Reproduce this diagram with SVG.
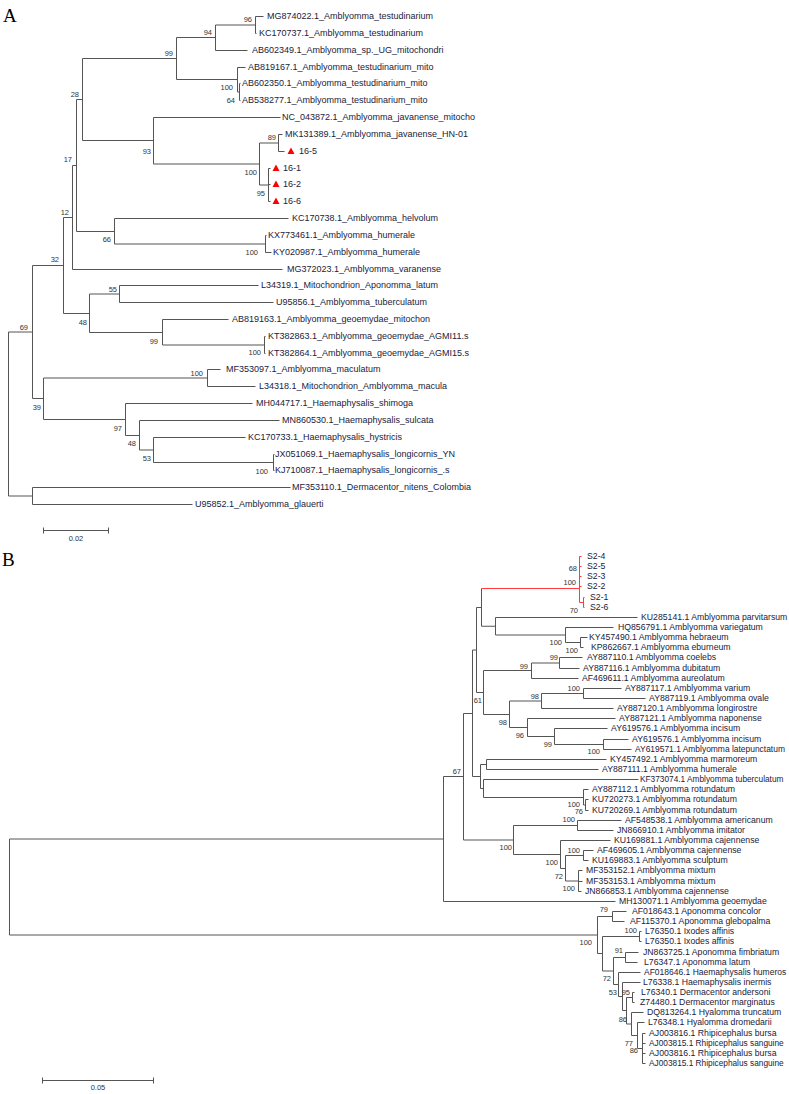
<svg xmlns="http://www.w3.org/2000/svg" width="789" height="1094" viewBox="0 0 789 1094">
<style>
.br{fill:none;stroke:#555;stroke-width:1}
.red{fill:none;stroke:#ff3b3b;stroke-width:1}
.lf{font-family:"Liberation Sans",Arial,sans-serif;font-size:9px;fill:#22223a}
.lb{font-family:"Liberation Sans",Arial,sans-serif;font-size:8.7px;fill:#22223a}
.bs{font-family:"Liberation Sans",Arial,sans-serif;font-size:7.5px;fill:#333;text-anchor:end}
.sc{font-family:"Liberation Sans",Arial,sans-serif;font-size:7.5px;fill:#333;text-anchor:middle}
.pl{font-family:"Liberation Serif","Times New Roman",serif;font-size:19px;fill:#000}
.tri{fill:#ff0000}
</style>
<rect width="789" height="1094" fill="#fff"/>
<text class="pl" x="3" y="22">A</text>
<text class="pl" x="2" y="566">B</text>

<g id="connectors">
<g transform="translate(0.5,0.5)">
<path class="br" d="M8 331.5V495.5M8 331.5H32M8 495.5H32
M32 487V504M32 487H290M32 504H192
M32 265V398M32 265H63M32 398H43
M63 217V313M63 217H72M63 313H89
M72 165V269M72 165H76M72 269H282
M76 99V231M76 99H82M76 231H114
M82 58V140M82 58H176M82 140H153
M176 37V79M176 37H215M176 79H237
M215 24.5V50M215 24.5H255M215 50H247
M255 16V33M255 16H263M255 33H256
M237 67V91.5M237 67H245M237 91.5H239
M239 83V100M239 83H240M239 100H240
M153 117V163.5M153 117H280M153 163.5H259
M259 142.5V184.5M259 142.5H278M259 184.5H268
M278 134V151M278 134H282M278 151H284
M268 168V201M268 168H270M268 184H270M268 201H270
M114 218V243.5M114 218H288M114 243.5H265
M265 235V252M265 235H266M265 252H271
M89 293.5V332M89 293.5H119M89 332H162
M119 285V302M119 285H258M119 302H273
M162 319V344.5M162 319H228M162 344.5H264
M264 336V353M264 336H265M264 353H265
M43 377.5V419M43 377.5H207M43 419H125
M207 369V386M207 369H220M207 386H255
M125 403V435M125 403H252M125 435H139
M139 420V449.5M139 420H279M139 449.5H153
M153 437V462M153 437H245M153 462H273
M273 454V470M273 454H274M273 470H274
M43 530H108M43 527V533M108 527V533"/>
<path class="br" d="M9 838.5V934.5M9 838.5H443M9 934.5H597
M443 776V901M443 776H463M443 901H615
M463 713V839.5M463 713H472M463 839.5H513
M472 649.5V776M472 649.5H476M472 776H480
M476 607V692M476 607H481M476 692H483
M481 588V625.75M481 625.75H495
M495 617V634.5M495 617H637M495 634.5H565
M565 627V642M565 627H613M565 642H580
M580 637V647M580 637H587M580 647H583
M483 670V714M483 670H531M483 714H509
M531 662.5V678M531 662.5H559M531 678H578
M559 657V668M559 657H582M559 668H579
M509 700.5V727M509 700.5H541M509 727H527
M541 693V708M541 693H583M541 708H613
M583 688V698M583 688H621M583 698H645
M527 718V736M527 718H615M527 736H554
M554 728V744M554 728H607M554 744H603
M603 739V749M603 739H628M603 749H631
M480 764V788M480 764H486M480 788H483
M486 759V769M486 759H606M486 769H598
M483 779V797M483 779H638M483 797H583
M583 789V804.5M583 789H588M583 804.5H585
M585 799V810M585 799H588M585 810H588
M513 825V854M513 825H577M513 854H560
M577 820V830M577 820H621M577 830H613
M560 840V868M560 840H610M560 868H565
M565 855V880.5M565 855H583M565 880.5H578
M583 850V860M583 850H593M583 860H588
M578 870V891M578 870H582M578 881H582M578 891H581
M597 916V953M597 916H612M597 953H602
M612 911V921M612 911H626M612 921H624
M602 936V970.5M602 936H639M602 970.5H613
M639 931V941M639 931H641M639 941H641
M613 957V984M613 957H625M613 984H618
M625 952V962M625 952H638M625 962H637
M618 972V996M618 972H640M618 996H622
M622 982V1010M622 982H640M622 1010H626
M626 997V1023.5M626 997H632M626 1023.5H631
M632 992V1002M632 992H634M632 1002H634
M631 1012V1035M631 1012H643M631 1035H637
M637 1022V1048M637 1022H644M637 1048H642
M642 1033V1063M642 1033H645M642 1043H645M642 1053H645M642 1063H645
M42 1080H153M42 1077V1083M153 1077V1083"/>
<path class="red" d="M481 588H579M579 556V602M579 556H581M579 566H581M579 576H581M579 586H581M579 602H583M583 597V607M583 597H584M583 607H584"/>
</g>
</g>

<g id="bootstrap">
<text class="bs" x="252" y="21.7">96</text>
<text class="bs" x="212" y="34.7">94</text>
<text class="bs" x="173" y="55.7">99</text>
<text class="bs" x="233" y="89.7">100</text>
<text class="bs" x="235" y="102.7">64</text>
<text class="bs" x="79" y="96.7">28</text>
<text class="bs" x="151" y="153.7">93</text>
<text class="bs" x="276" y="139.7">89</text>
<text class="bs" x="257" y="174.7">100</text>
<text class="bs" x="265" y="195.7">95</text>
<text class="bs" x="72" y="161.7">17</text>
<text class="bs" x="69" y="214.7">12</text>
<text class="bs" x="111" y="241.7">66</text>
<text class="bs" x="258" y="254.7">100</text>
<text class="bs" x="59" y="261.7">32</text>
<text class="bs" x="117" y="291.7">55</text>
<text class="bs" x="87" y="324.7">48</text>
<text class="bs" x="158" y="343.7">99</text>
<text class="bs" x="261" y="354.7">100</text>
<text class="bs" x="28" y="329.7">69</text>
<text class="bs" x="203" y="375.7">100</text>
<text class="bs" x="41" y="409.7">39</text>
<text class="bs" x="122" y="430.7">97</text>
<text class="bs" x="136" y="445.7">48</text>
<text class="bs" x="151" y="460.7">53</text>
<text class="bs" x="268" y="473.7">100</text>
<text class="sc" x="76" y="541">0.02</text>

<text class="bs" x="577" y="570.7">68</text>
<text class="bs" x="576" y="584.7">100</text>
<text class="bs" x="578" y="612.7">70</text>
<text class="bs" x="562" y="644.7">100</text>
<text class="bs" x="578" y="652.7">100</text>
<text class="bs" x="558" y="659.7">99</text>
<text class="bs" x="528" y="668.7">99</text>
<text class="bs" x="580" y="690.7">100</text>
<text class="bs" x="539" y="698.7">98</text>
<text class="bs" x="482" y="702.7">61</text>
<text class="bs" x="507" y="724.7">98</text>
<text class="bs" x="524" y="737.7">96</text>
<text class="bs" x="552" y="746.7">99</text>
<text class="bs" x="600" y="753.7">100</text>
<text class="bs" x="461" y="773.7">67</text>
<text class="bs" x="580" y="806.7">100</text>
<text class="bs" x="583" y="813.7">76</text>
<text class="bs" x="575" y="821.7">100</text>
<text class="bs" x="512" y="849.7">100</text>
<text class="bs" x="580" y="852.7">100</text>
<text class="bs" x="558" y="864.7">100</text>
<text class="bs" x="563" y="878.7">72</text>
<text class="bs" x="575" y="890.7">100</text>
<text class="bs" x="608" y="911.7">79</text>
<text class="bs" x="637" y="932.7">100</text>
<text class="bs" x="592" y="944.7">100</text>
<text class="bs" x="623" y="952.7">91</text>
<text class="bs" x="611" y="980.7">72</text>
<text class="bs" x="617" y="994.7">53</text>
<text class="bs" x="630" y="994.7">95</text>
<text class="bs" x="627" y="1021.7">86</text>
<text class="bs" x="633" y="1045.7">77</text>
<text class="bs" x="638" y="1052.7">86</text>
<text class="sc" x="98" y="1090">0.05</text>
</g>

<g id="a-MG874022"><text class="lf" x="267" y="19">MG874022.1_Amblyomma_testudinarium</text></g>
<g id="a-KC170737"><text class="lf" x="259" y="36">KC170737.1_Amblyomma_testudinarium</text></g>
<g id="a-AB602349"><text class="lf" x="252" y="53">AB602349.1_Amblyomma_sp._UG_mitochondri</text></g>
<g id="a-AB819167"><text class="lf" x="248" y="70">AB819167.1_Amblyomma_testudinarium_mito</text></g>
<g id="a-AB602350"><text class="lf" x="242" y="86">AB602350.1_Amblyomma_testudinarium_mito</text></g>
<g id="a-AB538277"><text class="lf" x="242" y="103">AB538277.1_Amblyomma_testudinarium_mito</text></g>
<g id="a-NC043872"><text class="lf" x="282" y="120">NC_043872.1_Amblyomma_javanense_mitocho</text></g>
<g id="a-MK131389"><text class="lf" x="285" y="137">MK131389.1_Amblyomma_javanense_HN-01</text></g>
<g id="a-16-5"><polygon class="tri" points="287.5,154 294.5,154 291,147.5"/><text class="lf" x="299" y="154">16-5</text></g>
<g id="a-16-1"><polygon class="tri" points="272.5,171 279.5,171 276,164.5"/><text class="lf" x="283" y="171">16-1</text></g>
<g id="a-16-2"><polygon class="tri" points="272.5,187 279.5,187 276,180.5"/><text class="lf" x="283" y="187">16-2</text></g>
<g id="a-16-6"><polygon class="tri" points="272.5,204 279.5,204 276,197.5"/><text class="lf" x="283" y="204">16-6</text></g>
<g id="a-KC170738"><text class="lf" x="292" y="221">KC170738.1_Amblyomma_helvolum</text></g>
<g id="a-KX773461"><text class="lf" x="268" y="238">KX773461.1_Amblyomma_humerale</text></g>
<g id="a-KY020987"><text class="lf" x="273" y="255">KY020987.1_Amblyomma_humerale</text></g>
<g id="a-MG372023"><text class="lf" x="287" y="272">MG372023.1_Amblyomma_varanense</text></g>
<g id="a-L34319"><text class="lf" x="261" y="288">L34319.1_Mitochondrion_Aponomma_latum</text></g>
<g id="a-U95856"><text class="lf" x="276" y="305">U95856.1_Amblyomma_tuberculatum</text></g>
<g id="a-AB819163"><text class="lf" x="232" y="322">AB819163.1_Amblyomma_geoemydae_mitochon</text></g>
<g id="a-KT382863"><text class="lf" x="268" y="339">KT382863.1_Amblyomma_geoemydae_AGMI11.s</text></g>
<g id="a-KT382864"><text class="lf" x="268" y="356">KT382864.1_Amblyomma_geoemydae_AGMI15.s</text></g>
<g id="a-MF353097"><text class="lf" x="226" y="372">MF353097.1_Amblyomma_maculatum</text></g>
<g id="a-L34318"><text class="lf" x="259" y="389">L34318.1_Mitochondrion_Amblyomma_macula</text></g>
<g id="a-MH044717"><text class="lf" x="256" y="406">MH044717.1_Haemaphysalis_shimoga</text></g>
<g id="a-MN860530"><text class="lf" x="282" y="423">MN860530.1_Haemaphysalis_sulcata</text></g>
<g id="a-KC170733"><text class="lf" x="248" y="440">KC170733.1_Haemaphysalis_hystricis</text></g>
<g id="a-JX051069"><text class="lf" x="275" y="457">JX051069.1_Haemaphysalis_longicornis_YN</text></g>
<g id="a-KJ710087"><text class="lf" x="275" y="473">KJ710087.1_Haemaphysalis_longicornis_.s</text></g>
<g id="a-MF353110"><text class="lf" x="292" y="490">MF353110.1_Dermacentor_nitens_Colombia</text></g>
<g id="a-U95852"><text class="lf" x="195" y="507">U95852.1_Amblyomma_glauerti</text></g>

<g id="b-S2-4"><text class="lb" x="587" y="559">S2-4</text></g>
<g id="b-S2-5"><text class="lb" x="587" y="569">S2-5</text></g>
<g id="b-S2-3"><text class="lb" x="587" y="579">S2-3</text></g>
<g id="b-S2-2"><text class="lb" x="587" y="589">S2-2</text></g>
<g id="b-S2-1"><text class="lb" x="590" y="600">S2-1</text></g>
<g id="b-S2-6"><text class="lb" x="590" y="610">S2-6</text></g>
<g id="b-KU285141"><text class="lb" x="641" y="620">KU285141.1 Amblyomma parvitarsum</text></g>
<g id="b-HQ856791"><text class="lb" x="618" y="630">HQ856791.1 Amblyomma variegatum</text></g>
<g id="b-KY457490"><text class="lb" x="589" y="640">KY457490.1 Amblyomma hebraeum</text></g>
<g id="b-KP862667"><text class="lb" x="591" y="650">KP862667.1 Amblyomma eburneum</text></g>
<g id="b-AY887110"><text class="lb" x="587" y="660">AY887110.1 Amblyomma coelebs</text></g>
<g id="b-AY887116"><text class="lb" x="583" y="671">AY887116.1 Amblyomma dubitatum</text></g>
<g id="b-AF469611"><text class="lb" x="582" y="681">AF469611.1 Amblyomma aureolatum</text></g>
<g id="b-AY887117"><text class="lb" x="625" y="691">AY887117.1 Amblyomma varium</text></g>
<g id="b-AY887119"><text class="lb" x="649" y="701">AY887119.1 Amblyomma ovale</text></g>
<g id="b-AY887120"><text class="lb" x="617" y="711">AY887120.1 Amblyomma longirostre</text></g>
<g id="b-AY887121"><text class="lb" x="619" y="721">AY887121.1 Amblyomma naponense</text></g>
<g id="b-AY619576a"><text class="lb" x="611" y="731">AY619576.1 Amblyomma incisum</text></g>
<g id="b-AY619576b"><text class="lb" x="632" y="742">AY619576.1 Amblyomma incisum</text></g>
<g id="b-AY619571"><text class="lb" x="635" y="752" style="font-size:8.45px">AY619571.1 Amblyomma latepunctatum</text></g>
<g id="b-KY457492"><text class="lb" x="610" y="762">KY457492.1 Amblyomma marmoreum</text></g>
<g id="b-AY887111"><text class="lb" x="602" y="772">AY887111.1 Amblyomma humerale</text></g>
<g id="b-KF373074"><text class="lb" x="640" y="782" style="font-size:8.3px">KF373074.1 Amblyomma tuberculatum</text></g>
<g id="b-AY887112"><text class="lb" x="592" y="792">AY887112.1 Amblyomma rotundatum</text></g>
<g id="b-KU720273"><text class="lb" x="592" y="802">KU720273.1 Amblyomma rotundatum</text></g>
<g id="b-KU720269"><text class="lb" x="592" y="813">KU720269.1 Amblyomma rotundatum</text></g>
<g id="b-AF548538"><text class="lb" x="625" y="823">AF548538.1 Amblyomma americanum</text></g>
<g id="b-JN866910"><text class="lb" x="617" y="833">JN866910.1 Amblyomma imitator</text></g>
<g id="b-KU169881"><text class="lb" x="614" y="843">KU169881.1 Amblyomma cajennense</text></g>
<g id="b-AF469605"><text class="lb" x="597" y="853">AF469605.1 Amblyomma cajennense</text></g>
<g id="b-KU169883"><text class="lb" x="592" y="863">KU169883.1 Amblyomma sculptum</text></g>
<g id="b-MF353152"><text class="lb" x="586" y="873">MF353152.1 Amblyomma mixtum</text></g>
<g id="b-MF353153"><text class="lb" x="586" y="884">MF353153.1 Amblyomma mixtum</text></g>
<g id="b-JN866853"><text class="lb" x="585" y="894">JN866853.1 Amblyomma cajennense</text></g>
<g id="b-MH130071"><text class="lb" x="619" y="904">MH130071.1 Amblyomma geoemydae</text></g>
<g id="b-AF018643"><text class="lb" x="632" y="914">AF018643.1 Aponomma concolor</text></g>
<g id="b-AF115370"><text class="lb" x="630" y="924">AF115370.1 Aponomma glebopalma</text></g>
<g id="b-L76350a"><text class="lb" x="645" y="934">L76350.1 Ixodes affinis</text></g>
<g id="b-L76350b"><text class="lb" x="645" y="944">L76350.1 Ixodes affinis</text></g>
<g id="b-JN863725"><text class="lb" x="643" y="955">JN863725.1 Aponomma fimbriatum</text></g>
<g id="b-L76347"><text class="lb" x="644" y="965">L76347.1 Aponomma latum</text></g>
<g id="b-AF018646"><text class="lb" x="644" y="975" style="font-size:8.5px">AF018646.1 Haemaphysalis humeros</text></g>
<g id="b-L76338"><text class="lb" x="643" y="985">L76338.1 Haemaphysalis inermis</text></g>
<g id="b-L76340"><text class="lb" x="641" y="995">L76340.1 Dermacentor andersoni</text></g>
<g id="b-Z74480"><text class="lb" x="640" y="1005">Z74480.1 Dermacentor marginatus</text></g>
<g id="b-DQ813264"><text class="lb" x="647" y="1015">DQ813264.1 Hyalomma truncatum</text></g>
<g id="b-L76348"><text class="lb" x="648" y="1025">L76348.1 Hyalomma dromedarii</text></g>
<g id="b-AJ003816a"><text class="lb" x="649" y="1036">AJ003816.1 Rhipicephalus bursa</text></g>
<g id="b-AJ003815a"><text class="lb" x="649" y="1046" style="font-size:8.3px">AJ003815.1 Rhipicephalus sanguine</text></g>
<g id="b-AJ003816b"><text class="lb" x="649" y="1056">AJ003816.1 Rhipicephalus bursa</text></g>
<g id="b-AJ003815b"><text class="lb" x="649" y="1066" style="font-size:8.3px">AJ003815.1 Rhipicephalus sanguine</text></g>
</svg>
